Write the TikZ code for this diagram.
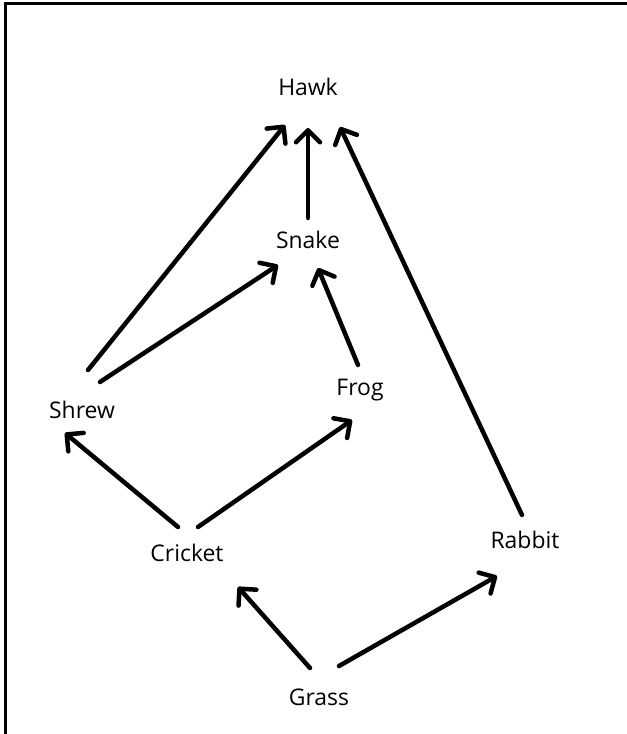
\documentclass[tikz,border=0pt]{standalone}
\usepackage{fontspec}
\setmainfont{Open Sans}
\usetikzlibrary{arrows.meta}
\begin{document}
\begin{tikzpicture}[x=1bp,y=-1bp,
  lbl/.style={font=\fontsize{23}{26}\selectfont, inner sep=0pt},
  arr/.style={line width=4.5bp, line cap=round, line join=round,
    -{Straight Barb[length=12bp,width=24bp,line width=4.5bp,round]}}]
\useasboundingbox (0,0) rectangle (627,734);
\draw[line width=2.5bp] (5.5,734) -- (5.5,3.5) -- (627,3.5);
\node[lbl] (hawk) at (308,87) {Hawk};
\node[lbl] (snake) at (308,240) {Snake};
\node[lbl] (shrew) at (82,410) {Shrew};
\node[lbl] (frog) at (360,390) {Frog};
\node[lbl] (cricket) at (187,553) {Cricket};
\node[lbl] (rabbit) at (525,540) {Rabbit};
\node[lbl] (grass) at (319,697) {Grass};
\draw[arr] ([shift={(6,-40)}]shrew.center) -- ([shift={(-23,38)}]hawk.center);
\draw[arr] ([shift={(18,-28)}]shrew.center) -- ([shift={(-30,25)}]snake.center);
\draw[arr] ([shift={(0,-22)}]snake.center) -- ([shift={(0,41)}]hawk.center);
\draw[arr] ([shift={(-2,-25)}]frog.center) -- ([shift={(10,28)}]snake.center);
\draw[arr] ([shift={(-3,-25)}]rabbit.center) -- ([shift={(32,40)}]hawk.center);
\draw[arr] ([shift={(-9,-26)}]cricket.center) -- ([shift={(-17,23)}]shrew.center);
\draw[arr] ([shift={(11,-26)}]cricket.center) -- ([shift={(-8,30)}]frog.center);
\draw[arr] ([shift={(-9,-29)}]grass.center) -- ([shift={(51,34)}]cricket.center);
\draw[arr] ([shift={(20,-31)}]grass.center) -- ([shift={(-28,36)}]rabbit.center);
\end{tikzpicture}
\end{document}
